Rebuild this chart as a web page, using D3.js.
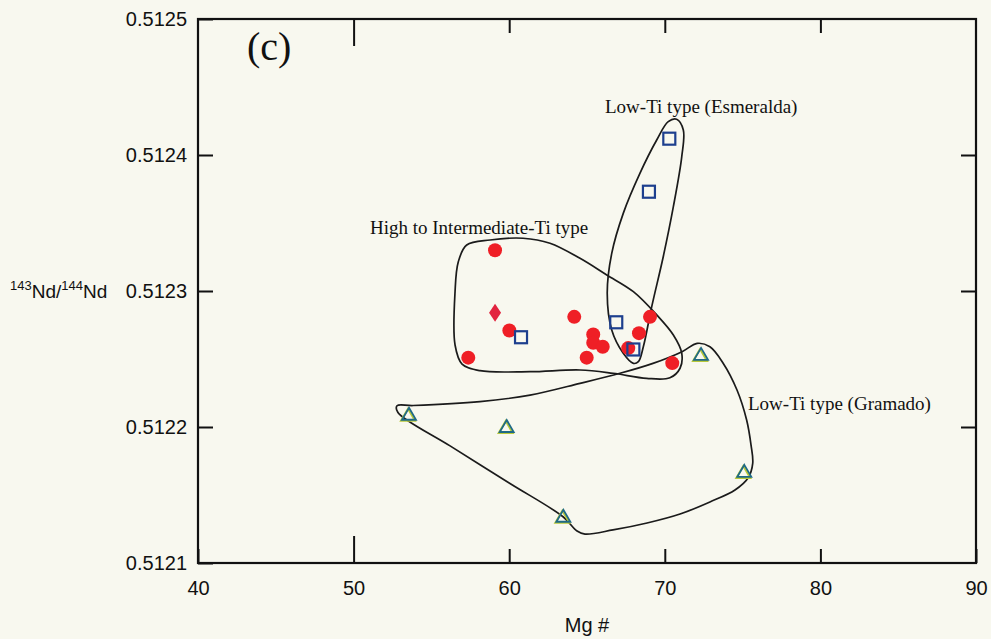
<!DOCTYPE html>
<html>
<head>
<meta charset="utf-8">
<script src="https://cdn.jsdelivr.net/npm/d3@7"></script>
<style>
  body { margin: 0; background: #f8f8ef; }
  svg { display: block; }
</style>
</head>
<body>
<svg></svg>
<script>
const width = 991;
const height = 639;
const margin = {left: 198, right: 15, top: 19, bottom: 76};

// axis ticks
const mgTicks = [40, 50, 60, 70, 80, 90];
const ndTicks = [0.5121, 0.5122, 0.5123, 0.5124, 0.5125];

// High to Intermediate-Ti type (red dots)
const highTiMg = [59.09, 57.37, 60.01, 64.18, 65.40, 65.40, 66.01, 64.98, 69.05, 68.34, 67.65, 70.48];
const highTiNd = [0.512330, 0.512251, 0.512271, 0.512281, 0.512268, 0.512262, 0.512259, 0.512251, 0.512281, 0.512269, 0.512258, 0.512247];

// single diamond
const diamondMg = [59.09];
const diamondNd = [0.512284];

// Low-Ti type (Esmeralda) squares
const esmeraldaMg = [70.29, 68.98, 66.88, 67.98, 60.76];
const esmeraldaNd = [0.512412, 0.512373, 0.512277, 0.512257, 0.512266];

// Low-Ti type (Gramado) triangles
const gramadoMg = [72.33, 53.56, 59.84, 63.48, 75.11];
const gramadoNd = [0.512253, 0.512209, 0.512200, 0.512134, 0.512167];

// hand drawn field outlines [Mg#, Nd]
const highTiField = [
    [57.27, 0.5123338], [58.77, 0.5123375], [60.89, 0.5123388], [62.62, 0.5123351],
    [64.55, 0.5123240], [66.27, 0.5123118], [67.98, 0.5122995], [69.48, 0.5122824],
    [70.55, 0.5122676], [71.09, 0.5122542], [70.98, 0.5122432], [70.33, 0.5122362],
    [68.84, 0.5122358], [66.67, 0.5122395], [64.55, 0.5122419], [61.34, 0.5122407],
    [58.12, 0.5122414], [56.97, 0.5122463], [56.52, 0.5122603], [56.52, 0.5122995],
    [56.73, 0.5123215]
];
const esmeraldaField = [
    [70.76, 0.5124263], [71.19, 0.5124184], [71.09, 0.5123988], [70.55, 0.5123620],
    [69.90, 0.5123252], [69.16, 0.5122885], [68.62, 0.5122590], [68.30, 0.5122480],
    [67.98, 0.5122468], [67.33, 0.5122542], [66.59, 0.5122713], [66.30, 0.5122983],
    [66.59, 0.5123277], [67.33, 0.5123571], [68.40, 0.5123865], [69.48, 0.5124110],
    [70.22, 0.5124245]
];
const gramadoField = [
    [52.79, 0.5122156], [53.82, 0.5122158], [58.12, 0.5122186],
    [61.34, 0.5122235], [64.55, 0.5122321], [67.12, 0.5122395], [69.24, 0.5122468],
    [71.11, 0.5122554], [72.08, 0.5122615], [72.90, 0.5122590], [73.74, 0.5122471],
    [74.64, 0.5122272], [75.26, 0.5122051], [75.54, 0.5121868], [75.65, 0.5121733],
    [75.35, 0.5121625], [74.51, 0.5121537], [72.90, 0.5121449], [70.98, 0.5121360],
    [68.86, 0.5121294], [66.67, 0.5121243], [64.87, 0.5121213], [64.36, 0.5121235],
    [63.46, 0.5121340], [60.05, 0.5121585], [56.20, 0.5121861], [52.85, 0.5122107]
];

const svg = d3.select("svg")
    .attr("width", width)
    .attr("height", height)
    .style("font-family", "'Liberation Sans', Arial, sans-serif");

svg.append("rect")
    .attr("width", width)
    .attr("height", height)
    .attr("fill", "#f8f8ef");

const x = d3.scaleLinear()
    .domain([40, 90])
    .range([margin.left, width - margin.right]);

const y = d3.scaleLinear()
    .domain([0.5121, 0.5125])
    .range([height - margin.bottom, margin.top]);

// axes, ticks pointing inward
const bottomAxis = svg.append("g")
    .attr("transform", `translate(0,${height - margin.bottom})`)
    .call(d3.axisBottom(x).tickValues(mgTicks).tickSizeInner(-14).tickSizeOuter(0).tickPadding(18));

const topAxis = svg.append("g")
    .attr("transform", `translate(0,${margin.top})`)
    .call(d3.axisTop(x).tickValues([50, 60, 70, 80]).tickSize(-14).tickFormat(""));

svg.append("g")
    .attr("transform", `translate(${margin.left},0)`)
    .call(d3.axisLeft(y).tickValues(ndTicks).tickSizeInner(-15).tickSizeOuter(0).tickPadding(11).tickFormat(d3.format(".4f")));

svg.append("g")
    .attr("transform", `translate(${width - margin.right},0)`)
    .call(d3.axisRight(y).tickValues([0.5122, 0.5123, 0.5124]).tickSize(-15).tickFormat(""));

// the 50 tick is drawn longer in the original
bottomAxis.selectAll(".tick line").filter(d => d === 50).attr("y2", -27);
topAxis.selectAll(".tick line").filter(d => d === 50).attr("y2", 27);

svg.selectAll(".domain").remove();
svg.selectAll(".tick line").attr("stroke", "#111").attr("stroke-width", 2);
svg.selectAll(".tick text")
    .attr("fill", "#111")
    .style("font-size", "20px")
    .style("font-family", "'Liberation Sans', Arial, sans-serif");

svg.append("rect")
    .attr("x", margin.left)
    .attr("y", margin.top)
    .attr("width", width - margin.left - margin.right)
    .attr("height", height - margin.top - margin.bottom)
    .attr("fill", "none")
    .attr("stroke", "#111")
    .attr("stroke-width", 2.2);

// axis titles
svg.append("text")
    .attr("x", x(65))
    .attr("y", 632)
    .attr("text-anchor", "middle")
    .style("font-size", "20px")
    .attr("fill", "#111")
    .text("Mg #");

const yTitle = svg.append("text")
    .attr("x", 10)
    .attr("y", 298)
    .attr("fill", "#111")
    .style("font-size", "19px");
yTitle.append("tspan").attr("dy", -8).style("font-size", "13px").text("143");
yTitle.append("tspan").attr("dy", 8).text("Nd/");
yTitle.append("tspan").attr("dy", -8).style("font-size", "13px").text("144");
yTitle.append("tspan").attr("dy", 8).text("Nd");

// field outlines
const outline = d3.line()
    .x(d => x(d[0]))
    .y(d => y(d[1]))
    .curve(d3.curveCatmullRomClosed.alpha(0.5));

svg.append("g")
    .selectAll("path")
    .data([highTiField, esmeraldaField, gramadoField])
    .enter()
    .append("path")
    .attr("d", outline)
    .attr("fill", "none")
    .attr("stroke", "#1b1b1b")
    .attr("stroke-width", 1.7);

// markers
svg.append("g")
    .selectAll("circle")
    .data(highTiMg)
    .enter()
    .append("circle")
    .attr("cx", d => x(d))
    .attr("cy", (d, i) => y(highTiNd[i]))
    .attr("r", 7)
    .attr("fill", "#ef1f26");

svg.append("g")
    .selectAll("path")
    .data(diamondMg)
    .enter()
    .append("path")
    .attr("d", (d, i) => {
        const cx = x(d), cy = y(diamondNd[i]);
        return `M${cx},${cy - 9}L${cx + 6},${cy}L${cx},${cy + 9}L${cx - 6},${cy}Z`;
    })
    .attr("fill", "#e2243f");

svg.append("g")
    .selectAll("rect")
    .data(esmeraldaMg)
    .enter()
    .append("rect")
    .attr("x", d => x(d) - 6)
    .attr("y", (d, i) => y(esmeraldaNd[i]) - 6)
    .attr("width", 12)
    .attr("height", 12)
    .attr("fill", "none")
    .attr("stroke", "#1d3f8e")
    .attr("stroke-width", 2.2);

const triangle = (cx, cy) => `M${cx},${cy - 7}L${cx + 7},${cy + 5}L${cx - 7},${cy + 5}Z`;

// yellow-green fringe under the blue triangles, like the printed original
svg.append("g")
    .selectAll("path")
    .data(gramadoMg)
    .enter()
    .append("path")
    .attr("d", (d, i) => triangle(x(d) - 1, y(gramadoNd[i]) + 1))
    .attr("fill", "none")
    .attr("stroke", "#b9c93a")
    .attr("stroke-width", 2);

svg.append("g")
    .selectAll("path")
    .data(gramadoMg)
    .enter()
    .append("path")
    .attr("d", (d, i) => triangle(x(d), y(gramadoNd[i])))
    .attr("fill", "none")
    .attr("stroke", "#1f6a86")
    .attr("stroke-width", 1.8);

// annotations
const serif = "'Liberation Serif', 'Times New Roman', serif";

svg.append("text")
    .attr("x", 247)
    .attr("y", 60)
    .style("font-family", serif)
    .style("font-size", "40px")
    .attr("fill", "#111")
    .text("(c)");

svg.append("text")
    .attr("x", 605)
    .attr("y", 113)
    .style("font-family", serif)
    .style("font-size", "19px")
    .attr("fill", "#111")
    .text("Low-Ti type (Esmeralda)");

svg.append("text")
    .attr("x", 370)
    .attr("y", 234)
    .style("font-family", serif)
    .style("font-size", "19px")
    .attr("fill", "#111")
    .text("High to Intermediate-Ti type");

svg.append("text")
    .attr("x", 748)
    .attr("y", 410)
    .style("font-family", serif)
    .style("font-size", "19px")
    .attr("fill", "#111")
    .text("Low-Ti type (Gramado)");
</script>
</body>
</html>
